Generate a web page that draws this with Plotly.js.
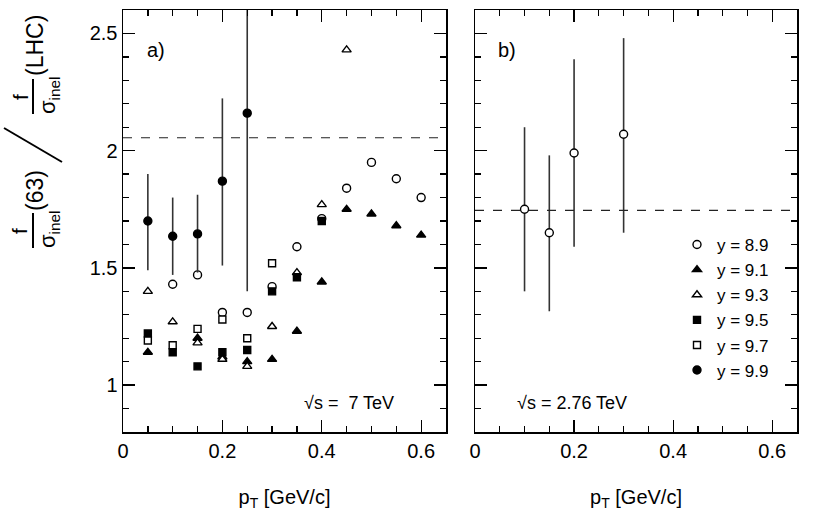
<!DOCTYPE html>
<html>
<head>
<meta charset="utf-8">
<script src="https://cdn.plot.ly/plotly-3.0.1.min.js"></script>
<style>html,body{margin:0;padding:0;background:#fff;}#chart{width:817px;height:522px;}</style>
</head>
<body>
<div id="chart"></div>
<script>
// ---- data ----
var legendNames = ["y = 8.9", "y = 9.1", "y = 9.3", "y = 9.5", "y = 9.7", "y = 9.9"];

// panel a) sqrt(s) = 7 TeV
var a89_x = [0.1, 0.15, 0.2, 0.25, 0.3, 0.35, 0.4, 0.45, 0.5, 0.55, 0.6];
var a89_y = [1.43, 1.47, 1.31, 1.31, 1.42, 1.59, 1.71, 1.84, 1.95, 1.88, 1.80];
var a91_x = [0.05, 0.15, 0.2, 0.25, 0.3, 0.35, 0.4, 0.45, 0.5, 0.55, 0.6];
var a91_y = [1.14, 1.20, 1.12, 1.10, 1.11, 1.23, 1.44, 1.75, 1.73, 1.68, 1.64];
var a93_x = [0.05, 0.1, 0.15, 0.2, 0.25, 0.3, 0.35, 0.4, 0.45];
var a93_y = [1.40, 1.27, 1.18, 1.11, 1.08, 1.25, 1.48, 1.77, 2.43];
var a95_x = [0.05, 0.1, 0.15, 0.2, 0.25, 0.3, 0.35, 0.4];
var a95_y = [1.22, 1.14, 1.08, 1.14, 1.15, 1.40, 1.46, 1.70];
var a97_x = [0.05, 0.1, 0.15, 0.2, 0.25, 0.3];
var a97_y = [1.19, 1.17, 1.24, 1.28, 1.20, 1.52];
var a99_x = [0.05, 0.1, 0.15, 0.2, 0.25];
var a99_y = [1.70, 1.635, 1.645, 1.87, 2.16];
var a99_errPlus = [0.20, 0.165, 0.167, 0.353, 0.76];
var a99_errMinus = [0.21, 0.165, 0.165, 0.36, 0.76];

// panel b) sqrt(s) = 2.76 TeV
var b89_x = [0.1, 0.15, 0.2, 0.3];
var b89_y = [1.75, 1.65, 1.99, 2.07];
var b89_errPlus = [0.35, 0.33, 0.40, 0.41];
var b89_errMinus = [0.35, 0.335, 0.40, 0.42];

// dashed reference levels (a, b)
var refLevels = [2.055, 1.745];

// axis ranges
var xRange = [0, 0.65];
var yRange = [0.8, 2.6];

// ---- plot ----
var FONT = "Liberation Sans, Arial, Helvetica, sans-serif";
var W = 817, H = 522;
function px(x){ return x / W; }
function py(y){ return 1 - y / H; }

function mk(symbol, fill, size){
  return {symbol: symbol, size: size, color: fill, line: {color: "black", width: 1.4}};
}
var errStyle = function(p, m){
  return {type: "data", symmetric: false, array: p, arrayminus: m, width: 0, thickness: 1.6, color: "#333"};
};

var traces = [
  {x: a89_x, y: a89_y, name: legendNames[0], mode: "markers", xaxis: "x", yaxis: "y", marker: mk("circle", "white", 8), legendgroup: "g0"},
  {x: a91_x, y: a91_y, name: legendNames[1], mode: "markers", xaxis: "x", yaxis: "y", marker: mk("triangle-up", "black", 8), legendgroup: "g1"},
  {x: a93_x, y: a93_y, name: legendNames[2], mode: "markers", xaxis: "x", yaxis: "y", marker: mk("triangle-up", "white", 8), legendgroup: "g2"},
  {x: a95_x, y: a95_y, name: legendNames[3], mode: "markers", xaxis: "x", yaxis: "y", marker: mk("square", "black", 7), legendgroup: "g3"},
  {x: a97_x, y: a97_y, name: legendNames[4], mode: "markers", xaxis: "x", yaxis: "y", marker: mk("square", "white", 7), legendgroup: "g4"},
  {x: a99_x, y: a99_y, name: legendNames[5], mode: "markers", xaxis: "x", yaxis: "y", marker: mk("circle", "black", 8),
   error_y: errStyle(a99_errPlus, a99_errMinus), legendgroup: "g5"},
  {x: b89_x, y: b89_y, name: legendNames[0], mode: "markers", xaxis: "x2", yaxis: "y2", marker: mk("circle", "white", 8),
   error_y: errStyle(b89_errPlus, b89_errMinus), showlegend: false, legendgroup: "g0"}
];

function xax(domain){
  return {
    domain: domain, range: xRange, dtick: 0.2, tick0: 0,
    ticks: "inside", ticklen: 12, tickwidth: 1.3, tickcolor: "black",
    minor: {dtick: 0.05, ticks: "inside", ticklen: 6, tickwidth: 1.3, tickcolor: "black"},
    showline: true, linecolor: "black", linewidth: 1.5, mirror: "ticks",
    showgrid: false, zeroline: false,
    tickfont: {family: FONT, size: 20, color: "black"},
    title: {text: "p<sub>T</sub> [GeV/c]", font: {family: FONT, size: 20, color: "black"}, standoff: 29}
  };
}
function yax(domain, labels, anchor){
  return {
    domain: domain, range: yRange, dtick: 0.5, tick0: 0,
    ticks: "inside", ticklen: 12, tickwidth: 1.3, tickcolor: "black",
    minor: {dtick: 0.1, ticks: "inside", ticklen: 6, tickwidth: 1.3, tickcolor: "black"},
    showline: true, linecolor: "black", linewidth: 1.5, mirror: "ticks",
    showgrid: false, zeroline: false, showticklabels: labels, anchor: anchor,
    tickfont: {family: FONT, size: 20, color: "black"}
  };
}

function ann(x, y, text, size, angle){
  return {xref: "paper", yref: "paper", x: px(x), y: py(y), text: text, showarrow: false,
          xanchor: "center", yanchor: "middle", textangle: angle || 0,
          font: {family: FONT, size: size, color: "black"}};
}

var yDom = [py(432), py(10)];
var layout = {
  width: W, height: H,
  margin: {l: 0, r: 0, t: 0, b: 0},
  paper_bgcolor: "white", plot_bgcolor: "white",
  font: {family: FONT, color: "black"},
  xaxis: xax([px(123), px(446)]),
  yaxis: yax(yDom, true, "x"),
  xaxis2: Object.assign(xax([px(475), px(797)]), {anchor: "y2"}),
  yaxis2: yax(yDom, false, "x2"),
  showlegend: true,
  legend: {x: px(677), y: py(227), xanchor: "left", yanchor: "top", bgcolor: "rgba(0,0,0,0)",
           font: {family: FONT, size: 17, color: "black"}, tracegroupgap: 0, itemwidth: 30},
  shapes: [
    {type: "line", xref: "x domain", yref: "y", x0: 0, x1: 1, y0: refLevels[0], y1: refLevels[0],
     line: {color: "#222", width: 1.2, dash: "dash"}},
    {type: "line", xref: "x2 domain", yref: "y2", x0: 0, x1: 1, y0: refLevels[1], y1: refLevels[1],
     line: {color: "#222", width: 1.2, dash: "dash"}},
    // fraction bars and slash of the y title
    {type: "line", xref: "paper", yref: "paper", x0: px(33), x1: px(33), y0: py(213), y1: py(248), line: {color: "black", width: 2}},
    {type: "line", xref: "paper", yref: "paper", x0: px(33), x1: px(33), y0: py(79), y1: py(114), line: {color: "black", width: 2}},
    {type: "line", xref: "paper", yref: "paper", x0: px(4), x1: px(62), y0: py(128), y1: py(162), line: {color: "black", width: 2}}
  ],
  annotations: [
    ann(156, 50, "a)", 20),
    ann(507, 50, "b)", 20),
    ann(349, 403, "√s =  7 TeV", 18),
    ann(572, 403, "√s = 2.76 TeV", 18),
    // y title pieces (rotated)
    ann(20, 231, "f", 21, -90),
    ann(49, 229, "σ<sub>inel</sub>", 22, -90),
    ann(35, 191, "(63)", 23, -90),
    ann(20, 97, "f", 21, -90),
    ann(49, 95, "σ<sub>inel</sub>", 22, -90),
    ann(35, 46, "(LHC)", 23, -90)
  ]
};

Plotly.newPlot("chart", traces, layout, {displayModeBar: false, staticPlot: true});
</script>
</body>
</html>
